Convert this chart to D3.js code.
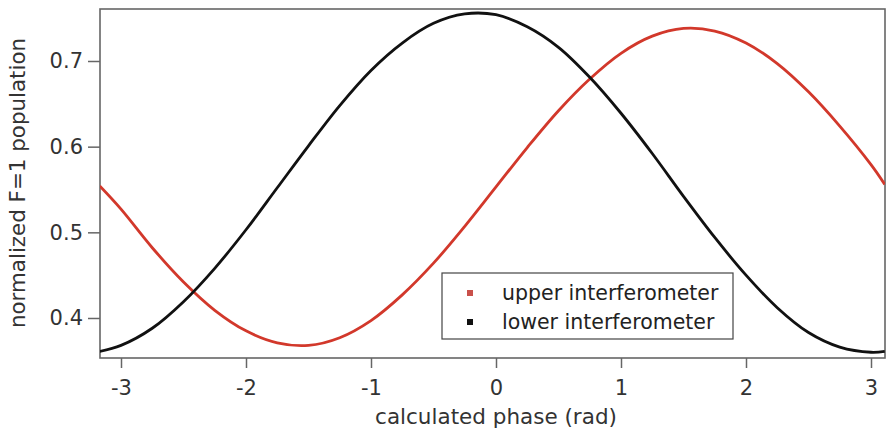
<!DOCTYPE html>
<html><head><meta charset="utf-8">
<script src="https://cdn.jsdelivr.net/npm/d3@7"></script>
<style>body{margin:0;background:#fff}svg{display:block}</style>
</head><body><svg id="c" width="887" height="433"></svg>
<script>
const phase = [-3.17,-3.0,-2.75,-2.5,-2.25,-2.0,-1.75,-1.5,-1.25,-1.0,-0.75,-0.5,-0.25,0,0.25,0.5,0.75,1.0,1.25,1.5,1.75,2.0,2.25,2.5,2.75,3.0,3.11];
const upper = [0.554,0.527,0.482,0.442,0.409,0.385,0.371,0.368,0.377,0.397,0.427,0.464,0.507,0.553,0.599,0.642,0.679,0.709,0.729,0.738,0.735,0.721,0.697,0.664,0.624,0.579,0.556];
const lower = [0.361,0.368,0.388,0.419,0.458,0.503,0.552,0.601,0.648,0.689,0.721,0.744,0.755,0.754,0.740,0.716,0.681,0.639,0.592,0.542,0.494,0.450,0.412,0.383,0.366,0.360,0.361];
const xTicks = [-3,-2,-1,0,1,2,3];
const yTicks = [0.4,0.5,0.6,0.7];
const seriesNames = ["upper interferometer","lower interferometer"];
const colors = ["#d2382b","#111111"];
const markerColors = ["#c9504a","#111111"];

const svg = d3.select("#c");
const L=100, R=885, T=9, B=358;
const x = d3.scaleLinear().domain([-3.168,3.112]).range([L,R]);
const y = d3.scaleLinear().domain([0.3533,0.7607]).range([B,T]);
const font = "'DejaVu Sans', sans-serif";

svg.append("rect").attr("x",L).attr("y",T).attr("width",R-L).attr("height",B-T)
  .attr("fill","none").attr("stroke","#666").attr("stroke-width",1.6);

const xa = svg.append("g").attr("transform",`translate(0,${B})`)
  .call(d3.axisBottom(x).tickValues(xTicks).tickSize(10).tickPadding(12).tickFormat(d=>String(d)));
const ya = svg.append("g").attr("transform",`translate(${L},0)`)
  .call(d3.axisLeft(y).tickValues(yTicks).tickSize(12).tickPadding(5).tickFormat(d=>d.toFixed(1)));
[xa,ya].forEach(a=>{
  a.select(".domain").remove();
  a.selectAll("line").attr("stroke","#666").attr("stroke-width",1.5);
  a.selectAll("text").attr("font-family",font).attr("font-size",21).attr("fill","#333");
});

const line = d3.line().x((d,i)=>x(phase[i])).y(d=>y(d)).curve(d3.curveCatmullRom);
svg.append("defs").append("clipPath").attr("id","clip").append("rect")
  .attr("x",L).attr("y",T).attr("width",R-L).attr("height",B-T);
const g = svg.append("g").attr("clip-path","url(#clip)");
[upper,lower].forEach((s,k)=>{
  g.append("path").attr("d",line(s)).attr("fill","none")
   .attr("stroke",colors[k]).attr("stroke-width",2.8);
});

const lg = svg.append("g");
lg.append("rect").attr("x",442).attr("y",273).attr("width",291).attr("height",66)
  .attr("fill","#fff").attr("stroke","#444").attr("stroke-width",1.2);
seriesNames.forEach((n,i)=>{
  const cy = 293 + i*29;
  lg.append("rect").attr("x",467).attr("y",cy-3).attr("width",6).attr("height",6).attr("fill",markerColors[i]);
  lg.append("text").attr("x",502).attr("y",cy).attr("dy","0.35em")
    .attr("font-family",font).attr("font-size",20.5).attr("fill","#222").text(n);
});

svg.append("text").attr("x",496).attr("y",424).attr("text-anchor","middle")
  .attr("font-family",font).attr("font-size",21.5).attr("fill","#333").text("calculated phase (rad)");
svg.append("text").attr("transform","translate(17,183) rotate(-90)").attr("text-anchor","middle")
  .attr("dy","0.35em").attr("font-family",font).attr("font-size",21.4).attr("fill","#333")
  .text("normalized F=1 population");
</script></body></html>
